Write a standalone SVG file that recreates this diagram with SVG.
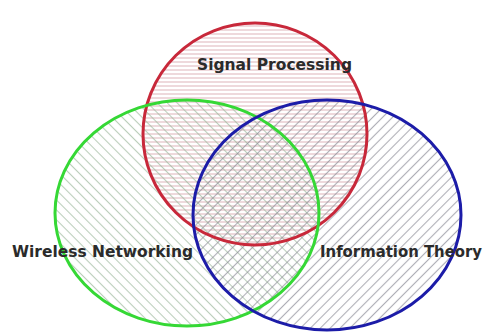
<svg xmlns="http://www.w3.org/2000/svg" width="492" height="336" viewBox="0 0 492 336">
<defs>
<pattern id="hr" patternUnits="userSpaceOnUse" width="8" height="4"><line x1="0" y1="2" x2="8" y2="2" stroke="#c98a92" stroke-width="1.1" stroke-opacity="0.6"/></pattern>
<pattern id="hg" patternUnits="userSpaceOnUse" width="7" height="7" patternTransform="rotate(45)"><line x1="0" y1="3.5" x2="7" y2="3.5" stroke="#9db89d" stroke-width="1.1" stroke-opacity="0.7"/></pattern>
<pattern id="hb" patternUnits="userSpaceOnUse" width="7" height="7" patternTransform="rotate(-45)"><line x1="0" y1="3.5" x2="7" y2="3.5" stroke="#8c8c98" stroke-width="1.1" stroke-opacity="0.7"/></pattern>
<style>
.lbl{font-family:"DejaVu Sans","Liberation Sans",sans-serif;font-weight:bold;font-size:15px;fill:#2b2b2b}
.ring{fill:none;stroke-width:3}
</style>
</defs>
<rect width="492" height="336" fill="#ffffff"/>
<g id="fills">
<ellipse cx="255" cy="134" rx="112" ry="111" fill="url(#hr)"/>
<ellipse cx="187" cy="213" rx="132" ry="113" fill="url(#hg)"/>
<ellipse cx="327" cy="215" rx="134" ry="115" fill="url(#hb)"/>
</g>
<g id="signal-processing">
<ellipse class="ring" cx="255" cy="134" rx="112" ry="111" stroke="#c8283a"/>
<text class="lbl" x="197" y="70" textLength="155" lengthAdjust="spacingAndGlyphs">Signal Processing</text>
</g>
<g id="wireless-networking">
<ellipse class="ring" cx="187" cy="213" rx="132" ry="113" stroke="#35d835"/>
<text class="lbl" x="12" y="257" textLength="181" lengthAdjust="spacingAndGlyphs">Wireless Networking</text>
</g>
<g id="information-theory">
<ellipse class="ring" cx="327" cy="215" rx="134" ry="115" stroke="#1c1ca8"/>
<text class="lbl" x="320" y="257" textLength="162" lengthAdjust="spacingAndGlyphs">Information Theory</text>
</g>
<g id="connectors"/>
</svg>
